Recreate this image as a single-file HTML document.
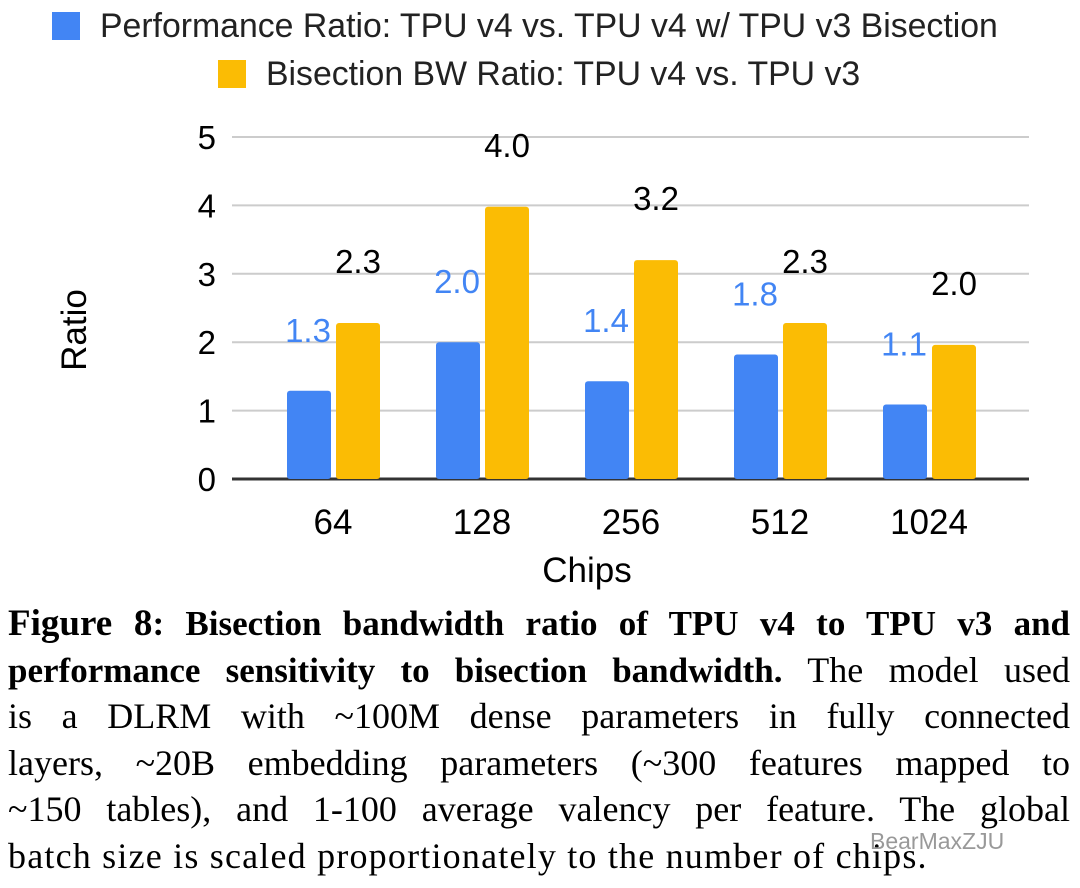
<!DOCTYPE html>
<html><head><meta charset="utf-8"><style>
body{margin:0;width:1080px;height:888px;background:#fff;overflow:hidden;position:relative;font-family:"Liberation Sans",sans-serif}
#cap{position:absolute;left:8px;top:600px;width:1062px;font-family:"Liberation Serif",serif;font-size:36px;line-height:46.5px;color:#000}
#cap div{white-space:nowrap;text-align:justify;text-align-last:justify;height:46.5px}
#cap div.last{text-align-last:left;letter-spacing:1.2px}
#cap .b{font-weight:bold;font-size:35px}
#wm{position:absolute;left:870px;top:828px;font-size:23px;color:#999}
</style></head><body>
<svg width="1080" height="600" style="position:absolute;left:0;top:0">
<rect x="52" y="12" width="28" height="28" fill="#4285f4"/>
<text x="100" y="37" font-size="33.8" fill="#222">Performance Ratio: TPU v4 vs. TPU v4 w/ TPU v3 Bisection</text>
<rect x="218" y="60" width="28" height="28" fill="#fbbc04"/>
<text x="266" y="85" font-size="33.8" fill="#222">Bisection BW Ratio: TPU v4 vs. TPU v3</text>
<g id="grid"></g><g id="bars"></g>
<text x="587" y="582" font-size="35" text-anchor="middle">Chips</text>
<text transform="translate(86,330) rotate(-90)" font-size="35" text-anchor="middle">Ratio</text>
</svg>
<div id="cap">
<div><span class="b" style="font-size:37px">Figure 8</span><span class="b">: Bisection bandwidth ratio of TPU v4 to TPU v3 and</span></div>
<div><span class="b">performance sensitivity to bisection bandwidth.</span> The model used</div>
<div>is a DLRM with ~100M dense parameters in fully connected</div>
<div>layers, ~20B embedding parameters (~300 features mapped to</div>
<div>~150 tables), and 1-100 average valency per feature. The global</div>
<div class="last">batch size is scaled proportionately to the number of chips.</div>
</div>
<div id="wm">BearMaxZJU</div>
<script>
const categories=["64","128","256","512","1024"];
const perfValues=[1.29,2.0,1.43,1.82,1.09];
const bwValues=[2.28,3.98,3.2,2.28,1.96];
const perfLabels=["1.3","2.0","1.4","1.8","1.1"];
const bwLabels=["2.3","4.0","3.2","2.3","2.0"];
const yTicks=[0,1,2,3,4,5];
const NS="http://www.w3.org/2000/svg";
const y0=479,unit=68.4,x0=333,step=149;
const yS=v=>y0-v*unit, xS=i=>x0+i*step;
function mk(t,a,p){const e=document.createElementNS(NS,t);for(const k in a)e.setAttribute(k,a[k]);p.appendChild(e);return e;}
const g=document.getElementById('grid'),b=document.getElementById('bars');
yTicks.forEach(v=>{
 const l=mk('line',{x1:232,x2:1029,y1:yS(v),y2:yS(v),stroke:v?'#ccc':'#333','stroke-width':v?2:3},g);
 
 
 const t=mk('text',{x:216,y:yS(v)+12,'font-size':33,'text-anchor':'end'},g);t.textContent=v;
 
 
});
categories.forEach((c,i)=>{
 const cx=xS(i);
 const r1=mk('rect',{x:cx-46,y:yS(perfValues[i]),width:44,height:perfValues[i]*unit,fill:'#4285f4',rx:3},b);
 
 
 const r2=mk('rect',{x:cx+3,y:yS(bwValues[i]),width:44,height:bwValues[i]*unit,fill:'#fbbc04',rx:3},b);
 
 
 const t1=mk('text',{x:cx-25,y:yS(perfValues[i])-49,'font-size':33,'text-anchor':'middle',fill:'#4285f4'},b);t1.textContent=perfLabels[i];
 
 
 const t2=mk('text',{x:cx+25,y:yS(bwValues[i])-50,'font-size':33,'text-anchor':'middle',fill:'#000'},b);t2.textContent=bwLabels[i];
 
 
 const xt=mk('text',{x:cx,y:534,'font-size':35,'text-anchor':'middle'},b);xt.textContent=c;
 
 
});
</script>
</body></html>
